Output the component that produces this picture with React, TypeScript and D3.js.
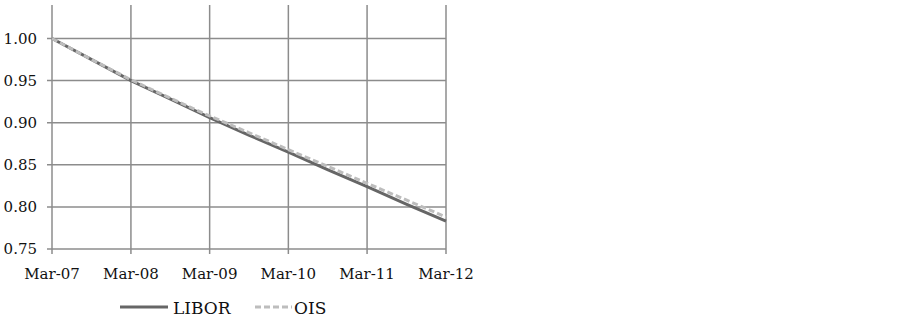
import React from 'react';
import * as d3 from 'd3';

// semi-annual points, Mar-07 .. Mar-12
const dates = [
  '2007-03', '2007-09', '2008-03', '2008-09', '2009-03', '2009-09',
  '2010-03', '2010-09', '2011-03', '2011-09', '2012-03'
];
const libor = [1.0, 0.975, 0.95, 0.928, 0.906, 0.885, 0.865, 0.844, 0.824, 0.803, 0.783];
const ois = [1.0, 0.975, 0.951, 0.929, 0.908, 0.888, 0.868, 0.848, 0.828, 0.808, 0.788];
const yTicks = [0.75, 0.8, 0.85, 0.9, 0.95, 1.0];
const xTicks = ['2007-03', '2008-03', '2009-03', '2010-03', '2011-03', '2012-03'];

const parse = d3.timeParse('%Y-%m');
const font = "'DejaVu Serif', serif";
const grid = '#8c8c8c';

export default function App() {
  const width = 900;
  const height = 320;
  const left = 52, right = 446, top = 5, bottom = 249;

  const x = d3.scaleTime()
    .domain([parse('2007-03')!, parse('2012-03')!])
    .range([left, right]);
  const y = d3.scaleLinear().domain([0.75, 1.0]).range([bottom, 38.5]);

  const line = d3.line<number>()
    .x((_, i) => x(parse(dates[i])!))
    .y(d => y(d));

  const fmt = d3.timeFormat('%b-%y');

  return (
    <svg width={width} height={height} style={{ position: 'absolute', left: 0, top: 0 }}>
      <g>
        {yTicks.map(t => (
          <g key={t}>
            <line x1={left - 5} x2={right} y1={y(t)} y2={y(t)} stroke={grid} strokeWidth={1.5} />
            <text x={37} y={y(t)} dy="0.35em" textAnchor="end" fontFamily={font} fontSize={15} fill="#111">
              {d3.format('.2f')(t)}
            </text>
          </g>
        ))}
        {xTicks.map(t => {
          const xx = x(parse(t)!);
          return (
            <g key={t}>
              <line x1={xx} x2={xx} y1={top} y2={bottom + 5} stroke={grid} strokeWidth={1.5} />
              <text x={xx} y={279} textAnchor="middle" fontFamily={font} fontSize={15} fill="#111">
                {fmt(parse(t)!)}
              </text>
            </g>
          );
        })}
      </g>
      <path d={line(libor) || ''} fill="none" stroke="#666" strokeWidth={3} />
      <path d={line(ois) || ''} fill="none" stroke="#bdbdbd" strokeWidth={3} strokeDasharray="6,3" />
      <g>
        <line x1={120} x2={168} y1={307} y2={307} stroke="#666" strokeWidth={3} />
        <text x={173} y={308} dy="0.35em" fontFamily={font} fontSize={17} fill="#111">LIBOR</text>
        <line x1={255} x2={292} y1={307} y2={307} stroke="#bdbdbd" strokeWidth={3} strokeDasharray="6,3" />
        <text x={294} y={308} dy="0.35em" fontFamily={font} fontSize={17} fill="#111">OIS</text>
      </g>
    </svg>
  );
}
